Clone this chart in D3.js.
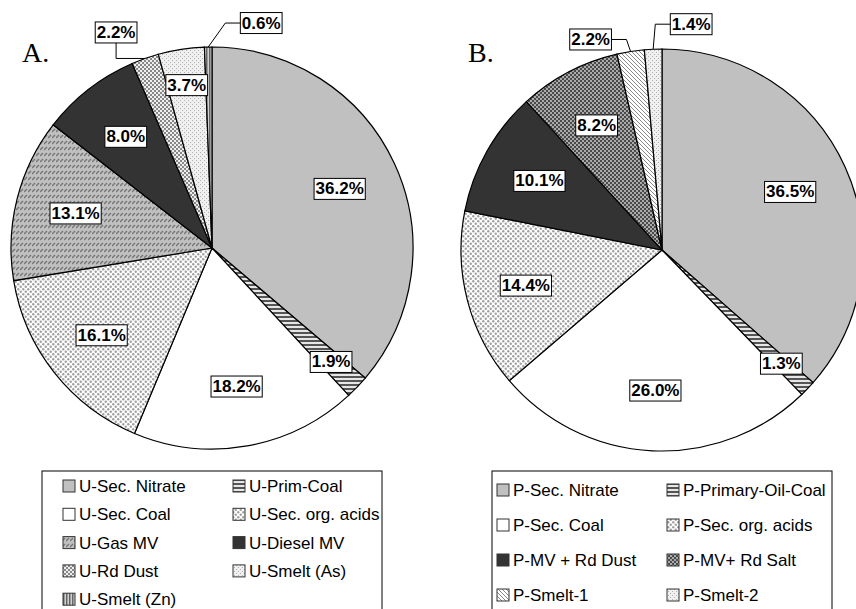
<!DOCTYPE html>
<html lang="en">
  <head>
    <meta charset="UTF-8" />
    <title>Source contributions - pie charts A and B</title>
    <script src="https://cdn.jsdelivr.net/npm/d3@7"></script>
    <style>
      body {
        margin: 0;
        background: #fff;
      }
      svg {
        display: block;
      }
      .panel-letter {
        font-family: 'Liberation Serif', 'Times New Roman', serif;
        font-size: 28px;
      }
      .slice-label {
        font-family: 'Liberation Sans', Arial, sans-serif;
        font-size: 17px;
        font-weight: bold;
      }
      .legend-text {
        font-family: 'Liberation Sans', Arial, sans-serif;
        font-size: 17px;
      }
    </style>
  </head>
  <body>
    <svg width="856" height="609"></svg>

    <script>
      // data
      const categoriesA = [
        'U-Sec. Nitrate', 'U-Prim-Coal', 'U-Sec. Coal', 'U-Sec. org. acids',
        'U-Gas MV', 'U-Diesel MV', 'U-Rd Dust', 'U-Smelt (As)', 'U-Smelt (Zn)'
      ];
      const valuesA = [36.2, 1.9, 18.2, 16.1, 13.1, 8.0, 2.2, 3.7, 0.6];

      const categoriesB = [
        'P-Sec. Nitrate', 'P-Primary-Oil-Coal', 'P-Sec. Coal', 'P-Sec. org. acids',
        'P-MV + Rd Dust', 'P-MV+ Rd Salt', 'P-Smelt-1', 'P-Smelt-2'
      ];
      const valuesB = [36.5, 1.3, 26.0, 14.4, 10.1, 8.2, 2.2, 1.4];

      // fill pattern per slice (ids of the <pattern>s below)
      const fillsA = ['nitrate', 'hstripe', 'white', 'dots', 'gasmv', 'dark', 'checker', 'lightdots', 'vstripe'];
      const fillsB = ['nitrate', 'hstripe', 'white', 'dots', 'dark', 'darkchecker', 'diag', 'lightdots'];

      const svg = d3.select('svg');
      const defs = svg.append('defs');

      function pat(id, w, h, bg) {
        const p = defs.append('pattern')
          .attr('id', id)
          .attr('patternUnits', 'userSpaceOnUse')
          .attr('width', w)
          .attr('height', h);
        p.append('rect').attr('width', w).attr('height', h).attr('fill', bg);
        return p;
      }

      pat('nitrate', 4, 4, '#c0c0c0');
      pat('white', 4, 4, '#ffffff');
      pat('dark', 4, 4, '#333333');

      let p = pat('hstripe', 4, 4, '#e6e6e6');
      p.append('rect').attr('y', 0).attr('width', 4).attr('height', 2).attr('fill', '#555');

      p = pat('vstripe', 3, 3, '#d0d0d0');
      p.append('rect').attr('x', 0).attr('width', 1.5).attr('height', 3).attr('fill', '#666');

      p = pat('dots', 5, 5, '#ffffff');
      p.append('circle').attr('cx', 1.25).attr('cy', 1.25).attr('r', 1.2).attr('fill', '#a0a0a0');
      p.append('circle').attr('cx', 3.75).attr('cy', 3.75).attr('r', 1.2).attr('fill', '#a0a0a0');

      p = pat('gasmv', 4, 6, '#c0c0c0');
      p.append('path').attr('d', 'M0,4 L3,1').attr('stroke', '#777').attr('stroke-width', 1.5);

      p = pat('checker', 4, 4, '#eeeeee');
      p.append('rect').attr('width', 2).attr('height', 2).attr('fill', '#888');
      p.append('rect').attr('x', 2).attr('y', 2).attr('width', 2).attr('height', 2).attr('fill', '#888');

      p = pat('darkchecker', 4, 4, '#aaaaaa');
      p.append('rect').attr('width', 2).attr('height', 2).attr('fill', '#4a4a4a');
      p.append('rect').attr('x', 2).attr('y', 2).attr('width', 2).attr('height', 2).attr('fill', '#4a4a4a');

      p = pat('lightdots', 4, 4, '#f0f0f0');
      p.append('rect').attr('width', 1).attr('height', 1).attr('fill', '#b0b0b0');
      p.append('rect').attr('x', 2).attr('y', 2).attr('width', 1).attr('height', 1).attr('fill', '#b0b0b0');

      p = pat('diag', 4, 4, '#ffffff');
      p.append('path').attr('d', 'M-1,-1 L5,5 M-1,3 L1,5 M3,-1 L5,1').attr('stroke', '#888').attr('stroke-width', 1);

      const R = 201;
      const pie = d3.pie().sort(null).value((d) => d.value);
      const arc = d3.arc().innerRadius(0).outerRadius(R);

      function drawPie(cfg) {
        const data = cfg.categories.map((c, i) => ({ name: c, value: cfg.values[i], fill: cfg.fills[i] }));
        const total = d3.sum(cfg.values);
        const g = svg.append('g').attr('transform', `translate(${cfg.cx},${cfg.cy})`);
        const arcs = pie(data);

        g.selectAll('path.slice')
          .data(arcs)
          .enter()
          .append('path')
          .attr('class', 'slice')
          .attr('d', arc)
          .attr('fill', (d) => `url(#${d.data.fill})`)
          .attr('stroke', '#000')
          .attr('stroke-width', 1.2);

        arcs.forEach((d, i) => {
          const text = d.data.value.toFixed(1) + '%';
          const mid = (d.startAngle + d.endAngle) / 2;
          const call = cfg.callouts[i];
          let x, y;
          if (call) {
            const px = Math.sin(mid) * R;
            const py = -Math.cos(mid) * R;
            x = px + call.dx;
            y = py + call.dy;
            const lab = addLabel(g, text, x, y);
            let pts;
            if (call.from === 'bottom') {
              pts = [[x, lab.y1], [x, py], [px, py]];
            } else if (x > px) {
              pts = [[lab.x0, y], [lab.x0 - 15, y], [px, py]];
            } else {
              pts = [[lab.x1, y], [lab.x1 + 15, y], [px, py]];
            }
            g.append('path')
              .attr('d', d3.line()(pts))
              .attr('fill', 'none')
              .attr('stroke', '#000')
              .attr('stroke-width', 1);
          } else {
            const frac = d.data.value / total;
            const lr = R * (frac < 0.05 ? 0.82 : 0.7);
            x = Math.sin(mid) * lr;
            y = -Math.cos(mid) * lr;
            addLabel(g, text, x, y);
          }
        });

        svg.append('text')
          .attr('class', 'panel-letter')
          .attr('x', cfg.letterX)
          .attr('y', 62)
          .text(cfg.letter);

        // legend
        const lg = svg.append('g').attr('transform', `translate(${cfg.legend.x},${cfg.legend.y})`);
        lg.append('rect')
          .attr('width', cfg.legend.w)
          .attr('height', 160)
          .attr('fill', '#fff')
          .attr('stroke', '#000')
          .attr('stroke-width', 1);
        data.forEach((d, i) => {
          const col = i % 2;
          const row = Math.floor(i / 2);
          const ix = cfg.legend.colX[col];
          const iy = cfg.legend.row0 + row * cfg.legend.rowH;
          lg.append('rect')
            .attr('x', ix)
            .attr('y', iy - 6)
            .attr('width', 12)
            .attr('height', 12)
            .attr('fill', `url(#${d.fill})`)
            .attr('stroke', '#333')
            .attr('stroke-width', 1);
          lg.append('text')
            .attr('class', 'legend-text')
            .attr('x', ix + 16)
            .attr('y', iy + 6)
            .text(d.name);
        });
      }

      function addLabel(g, text, x, y) {
        const t = g.append('text')
          .attr('class', 'slice-label')
          .attr('x', x)
          .attr('y', y)
          .attr('text-anchor', 'middle')
          .attr('dominant-baseline', 'central')
          .text(text);
        const bb = t.node().getBBox();
        const w = bb.width + 3;
        const h = 21;
        g.insert('rect', () => t.node())
          .attr('x', x - w / 2)
          .attr('y', y - h / 2)
          .attr('width', w)
          .attr('height', h)
          .attr('fill', '#fff')
          .attr('stroke', '#000')
          .attr('stroke-width', 1);
        return { x0: x - w / 2, x1: x + w / 2, y0: y - h / 2, y1: y + h / 2 };
      }

      drawPie({
        categories: categoriesA,
        values: valuesA,
        fills: fillsA,
        cx: 212,
        cy: 248,
        letter: 'A.',
        letterX: 22,
        callouts: {
          6: { dx: -29, dy: -26, from: 'bottom' },
          8: { dx: 53, dy: -24, from: 'side' }
        },
        legend: { x: 42, y: 471, w: 340, colX: [21, 191], row0: 15, rowH: 28.3 }
      });

      drawPie({
        categories: categoriesB,
        values: valuesB,
        fills: fillsB,
        cx: 662,
        cy: 250,
        letter: 'B.',
        letterX: 468,
        callouts: {
          6: { dx: -40, dy: -12, from: 'side' },
          7: { dx: 38, dy: -25, from: 'side' }
        },
        legend: { x: 492, y: 471, w: 340, colX: [5, 175], row0: 19, rowH: 35 }
      });
    </script>
  </body>
</html>
